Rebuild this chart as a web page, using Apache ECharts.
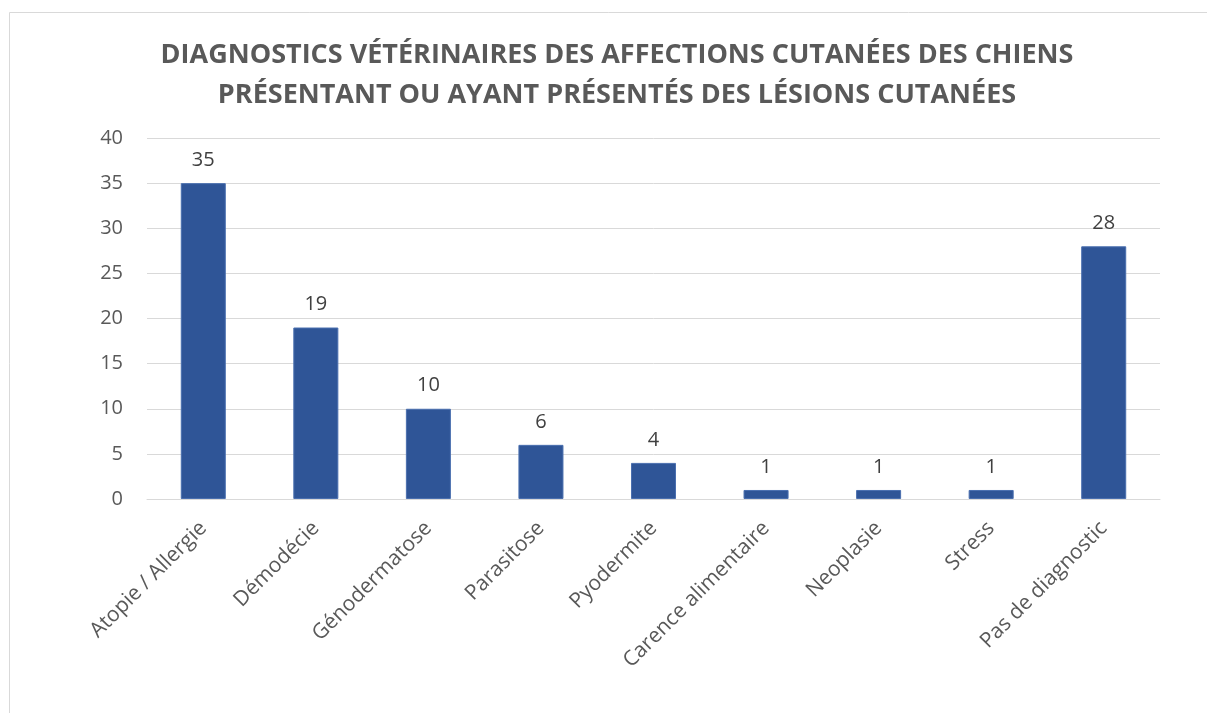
<!DOCTYPE html>
<html>
<head>
<meta charset="utf-8">
<script src="https://cdn.jsdelivr.net/npm/echarts@6/dist/echarts.min.js"></script>
<style>
  html, body { margin: 0; padding: 0; background: #fff; }
  #main { width: 1207px; height: 713px; }
</style>
</head>
<body>
<div id="main"></div>
<script>
var categories = ['Atopie / Allergie', 'Démodécie', 'Génodermatose', 'Parasitose', 'Pyodermite',
    'Carence alimentaire', 'Neoplasie', 'Stress', 'Pas de diagnostic'];
var counts = [35, 19, 10, 6, 4, 1, 1, 1, 28];
var yTicks = [0, 5, 10, 15, 20, 25, 30, 35, 40];

var chart = echarts.init(document.getElementById('main'));
var font = '"Open Sans", "Noto Sans", sans-serif';

var options = {
    backgroundColor: '#fff',
    animation: false,
    title: {
        text: 'DIAGNOSTICS VÉTÉRINAIRES DES AFFECTIONS CUTANÉES DES CHIENS\nPRÉSENTANT OU AYANT PRÉSENTÉS DES LÉSIONS CUTANÉES',
        left: 612,
        textAlign: 'center',
        top: 30,
        textStyle: {
            fontFamily: font,
            fontWeight: 'bold',
            fontSize: 27,
            lineHeight: 40,
            color: '#595959'
        }
    },
    graphic: [{
        type: 'rect',
        shape: { x: 9.5, y: 12.5, width: 1300, height: 800 },
        style: { fill: 'none', stroke: '#d9d9d9', lineWidth: 1 },
        silent: true
    }],
    grid: {
        left: 147,
        right: 47,
        top: 138,
        bottom: 214
    },
    xAxis: {
        type: 'category',
        data: categories,
        axisLine: { lineStyle: { color: '#d9d9d9', width: 1 } },
        axisTick: { show: false },
        axisLabel: {
            rotate: 45,
            interval: 0,
            margin: 26,
            fontFamily: font,
            fontSize: 21,
            color: '#595959'
        }
    },
    yAxis: {
        type: 'value',
        min: yTicks[0],
        max: yTicks[yTicks.length - 1],
        interval: yTicks[1] - yTicks[0],
        axisLine: { show: false },
        axisTick: { show: false },
        splitLine: { lineStyle: { color: '#d9d9d9', width: 1 } },
        axisLabel: {
            margin: 24,
            fontFamily: font,
            fontSize: 20,
            color: '#595959'
        }
    },
    series: [{
        type: 'bar',
        data: counts,
        barWidth: '40%',
        itemStyle: {
            color: '#2F5597',
            borderColor: '#4A6FAF',
            borderWidth: 1
        },
        label: {
            show: true,
            position: 'top',
            distance: 13,
            fontFamily: font,
            fontSize: 20,
            color: '#404040'
        }
    }]
};

chart.setOption(options);
</script>
</body>
</html>
